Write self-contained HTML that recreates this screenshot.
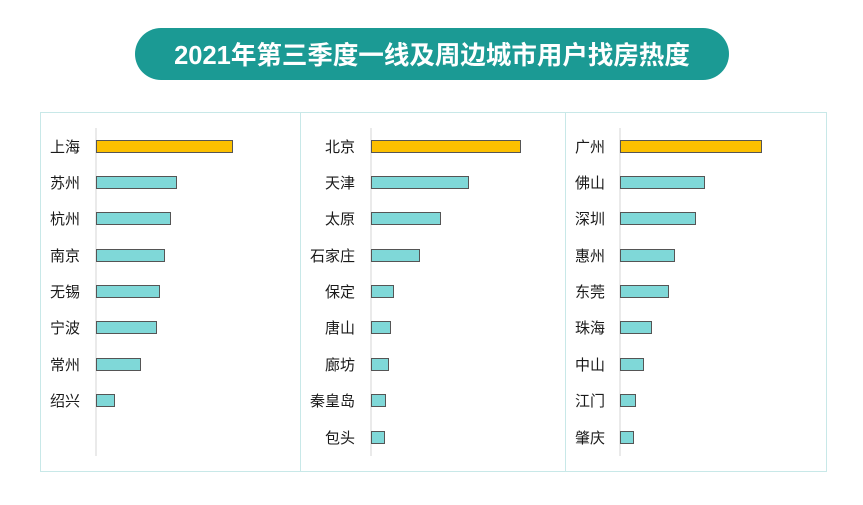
<!DOCTYPE html>
<html><head><meta charset="utf-8"><style>
body{margin:0;background:#fff;}
svg text{font-family:"Liberation Sans","Noto Sans CJK SC",sans-serif;}
</style></head><body>
<svg width="863" height="500" xmlns="http://www.w3.org/2000/svg">
<rect x="135" y="28" width="594" height="52" rx="26" fill="#1b9a94"/>
<text x="432" y="64" text-anchor="middle" font-size="25.5" font-weight="bold" fill="#fff">2021年第三季度一线及周边城市用户找房热度</text>
<rect x="40.5" y="112.5" width="786" height="359" fill="none" stroke="#c8e8e8"/>
<line x1="300.5" y1="112" x2="300.5" y2="472" stroke="#c8e8e8"/>
<line x1="565.5" y1="112" x2="565.5" y2="472" stroke="#c8e8e8"/>
<g stroke="#d4d4d4"><line x1="96" y1="128" x2="96" y2="456"/><line x1="371" y1="128" x2="371" y2="456"/><line x1="620" y1="128" x2="620" y2="456"/></g>
<g font-size="15" fill="#1a1a1a" font-weight="400">
<text x="50" y="152">上海</text><text x="50" y="188">苏州</text><text x="50" y="224">杭州</text><text x="50" y="261">南京</text><text x="50" y="297">无锡</text><text x="50" y="333">宁波</text><text x="50" y="370">常州</text><text x="50" y="406">绍兴</text>
<g text-anchor="end"><text x="355" y="152">北京</text><text x="355" y="188">天津</text><text x="355" y="224">太原</text><text x="355" y="261">石家庄</text><text x="355" y="297">保定</text><text x="355" y="333">唐山</text><text x="355" y="370">廊坊</text><text x="355" y="406">秦皇岛</text><text x="355" y="443">包头</text></g>
<text x="575" y="152">广州</text><text x="575" y="188">佛山</text><text x="575" y="224">深圳</text><text x="575" y="261">惠州</text><text x="575" y="297">东莞</text><text x="575" y="333">珠海</text><text x="575" y="370">中山</text><text x="575" y="406">江门</text><text x="575" y="443">肇庆</text>
</g>
<g stroke="#555" stroke-width="1">
<rect x="96.5" y="140.5" width="136" height="12" fill="#fcc000"/>
<rect x="96.5" y="176.5" width="80" height="12" fill="#7fd8d8"/>
<rect x="96.5" y="212.5" width="74" height="12" fill="#7fd8d8"/>
<rect x="96.5" y="249.5" width="68" height="12" fill="#7fd8d8"/>
<rect x="96.5" y="285.5" width="63" height="12" fill="#7fd8d8"/>
<rect x="96.5" y="321.5" width="60" height="12" fill="#7fd8d8"/>
<rect x="96.5" y="358.5" width="44" height="12" fill="#7fd8d8"/>
<rect x="96.5" y="394.5" width="18" height="12" fill="#7fd8d8"/>
<rect x="371.5" y="140.5" width="149" height="12" fill="#fcc000"/>
<rect x="371.5" y="176.5" width="97" height="12" fill="#7fd8d8"/>
<rect x="371.5" y="212.5" width="69" height="12" fill="#7fd8d8"/>
<rect x="371.5" y="249.5" width="48" height="12" fill="#7fd8d8"/>
<rect x="371.5" y="285.5" width="22" height="12" fill="#7fd8d8"/>
<rect x="371.5" y="321.5" width="19" height="12" fill="#7fd8d8"/>
<rect x="371.5" y="358.5" width="17" height="12" fill="#7fd8d8"/>
<rect x="371.5" y="394.5" width="14" height="12" fill="#7fd8d8"/>
<rect x="371.5" y="431.5" width="13" height="12" fill="#7fd8d8"/>
<rect x="620.5" y="140.5" width="141" height="12" fill="#fcc000"/>
<rect x="620.5" y="176.5" width="84" height="12" fill="#7fd8d8"/>
<rect x="620.5" y="212.5" width="75" height="12" fill="#7fd8d8"/>
<rect x="620.5" y="249.5" width="54" height="12" fill="#7fd8d8"/>
<rect x="620.5" y="285.5" width="48" height="12" fill="#7fd8d8"/>
<rect x="620.5" y="321.5" width="31" height="12" fill="#7fd8d8"/>
<rect x="620.5" y="358.5" width="23" height="12" fill="#7fd8d8"/>
<rect x="620.5" y="394.5" width="15" height="12" fill="#7fd8d8"/>
<rect x="620.5" y="431.5" width="13" height="12" fill="#7fd8d8"/>
</g>
</svg>
</body></html>
